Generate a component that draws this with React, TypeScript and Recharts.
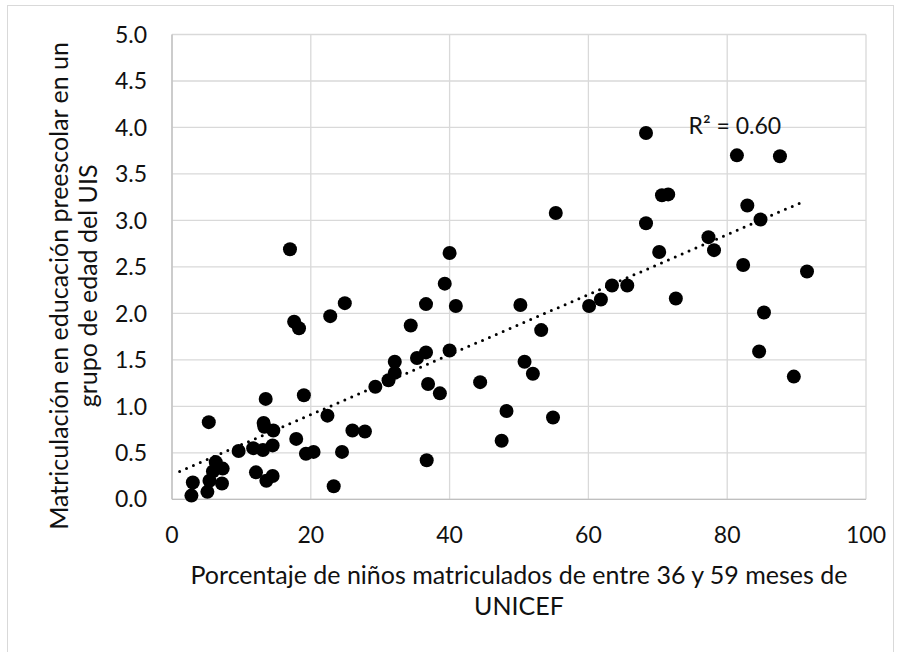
import { ScatterChart, Scatter, XAxis, YAxis, CartesianGrid, ReferenceDot } from 'recharts';

// % of children 36-59 months enrolled (UNICEF)
const unicefPct = [
    2.8, 3.0, 5.1, 5.3, 5.4, 5.9, 6.3, 7.2, 7.3, 9.6,
    11.7, 12.1, 13.1, 13.2, 13.3, 13.5, 13.6, 14.5, 14.5, 14.6,
    17.0, 17.6, 17.9, 18.3, 19.0, 19.3, 20.4, 22.4, 22.8, 23.3,
    24.5, 24.9, 26.0, 27.8, 29.3, 31.2, 32.1, 32.1, 34.4, 35.3,
    36.6, 36.6, 36.7, 36.9, 38.6, 39.3, 40.0, 40.0, 40.9, 44.4,
    47.5, 48.2, 50.2, 50.8, 52.0, 53.2, 54.9, 55.3, 60.1, 61.8,
    63.4, 65.6, 68.3, 68.3, 70.2, 70.6, 71.5, 72.6, 77.3, 78.1,
    81.4, 82.3, 82.9, 84.6, 84.8, 85.3, 87.6, 89.6, 91.5,
];

// preschool enrolment ratio (UIS)
const uisRatio = [
    0.04, 0.18, 0.08, 0.83, 0.20, 0.30, 0.40, 0.17, 0.33, 0.52,
    0.55, 0.29, 0.53, 0.82, 0.78, 1.08, 0.20, 0.58, 0.25, 0.74,
    2.69, 1.91, 0.65, 1.84, 1.12, 0.49, 0.51, 0.90, 1.97, 0.14,
    0.51, 2.11, 0.74, 0.73, 1.21, 1.28, 1.36, 1.48, 1.87, 1.52,
    1.58, 2.10, 0.42, 1.24, 1.14, 2.32, 2.65, 1.60, 2.08, 1.26,
    0.63, 0.95, 2.09, 1.48, 1.35, 1.82, 0.88, 3.08, 2.08, 2.15,
    2.30, 2.30, 3.94, 2.97, 2.66, 3.27, 3.28, 2.16, 2.82, 2.68,
    3.70, 2.52, 3.16, 1.59, 3.01, 2.01, 3.69, 1.32, 2.45,
];

// linear trendline endpoints
const trendX = [1.1, 91.2];
const trendY = [0.30, 3.21];

const xTicks = [0, 20, 40, 60, 80, 100];
const yTicks = [0, 0.5, 1, 1.5, 2, 2.5, 3, 3.5, 4, 4.5, 5];

const yTitle = ['Matriculación en educación preescolar en un', 'grupo de edad del UIS'];
const xTitle = ['Porcentaje de niños matriculados de entre 36 y 59 meses de', 'UNICEF'];
const r2Label = 'R² = 0.60';

const points = unicefPct.map((x, i) => ({ x, y: uisRatio[i] }));
const trend = trendX.map((x, i) => ({ x, y: trendY[i] }));

const FONT = 'Lato, "Open Sans", sans-serif';
const TEXT = '#111';

const Dot = (p: any) => <circle cx={p.cx} cy={p.cy} r={7} fill="#000" />;

const YTitle = ({ viewBox }: any) => {
    const cy = viewBox.y + viewBox.height / 2 + 19;
    return (
        <g>
            <text transform={`translate(68, ${cy}) rotate(-90)`} textAnchor="middle" fontSize={25} fill={TEXT} fontFamily={FONT}>
                {yTitle[0]}
            </text>
            <text transform={`translate(97, ${cy}) rotate(-90)`} textAnchor="middle" fontSize={25} fill={TEXT} fontFamily={FONT}>
                {yTitle[1]}
            </text>
        </g>
    );
};

const XTitle = ({ viewBox }: any) => {
    const cx = viewBox.x + viewBox.width / 2;
    return (
        <g>
            <text x={cx} y={584} textAnchor="middle" fontSize={25} fill={TEXT} fontFamily={FONT}>{xTitle[0]}</text>
            <text x={cx} y={615} textAnchor="middle" fontSize={25} fill={TEXT} fontFamily={FONT}>{xTitle[1]}</text>
        </g>
    );
};

export default function App() {
    return (
        <div style={{ position: 'absolute', left: 0, top: 0, width: 906, height: 652, background: '#fff', overflow: 'hidden' }}>
            <div style={{ position: 'absolute', left: 7, top: 5, width: 885, height: 700, border: '1.5px solid #d9d9d9' }} />
            <div style={{ position: 'absolute', left: 0, top: 0 }}>
                <ScatterChart width={906} height={652} margin={{ top: 34.5, right: 40, bottom: 0, left: 0 }}>
                    <CartesianGrid stroke="#d9d9d9" strokeWidth={1.3} />
                    <XAxis
                        type="number"
                        dataKey="x"
                        domain={[0, 100]}
                        ticks={xTicks}
                        height={152.7}
                        tickSize={0}
                        tickMargin={27}
                        axisLine={{ stroke: '#bfbfbf', strokeWidth: 1.3 }}
                        tick={{ fontSize: 23, fill: TEXT, fontFamily: FONT }}
                        label={<XTitle />}
                    />
                    <YAxis
                        type="number"
                        dataKey="y"
                        domain={[0, 5]}
                        ticks={yTicks}
                        width={172}
                        tickSize={0}
                        tickMargin={25}
                        tickFormatter={(v: number) => v.toFixed(1)}
                        axisLine={{ stroke: '#bfbfbf', strokeWidth: 1.3 }}
                        tick={{ fontSize: 23, fill: TEXT, fontFamily: FONT }}
                        label={<YTitle />}
                    />
                    <Scatter data={points} fill="#000" shape={Dot} isAnimationActive={false} />
                    <Scatter
                        data={trend}
                        fill="#000"
                        line={{ stroke: '#000', strokeWidth: 3, strokeDasharray: '0 7.5', strokeLinecap: 'round' }}
                        shape={() => <g />}
                        isAnimationActive={false}
                    />
                    <ReferenceDot
                        x={81.1}
                        y={4.02}
                        r={0}
                        fill="none"
                        stroke="none"
                        label={{ value: r2Label, position: 'center', fontSize: 23, fill: TEXT, fontFamily: FONT }}
                    />
                </ScatterChart>
            </div>
        </div>
    );
}
